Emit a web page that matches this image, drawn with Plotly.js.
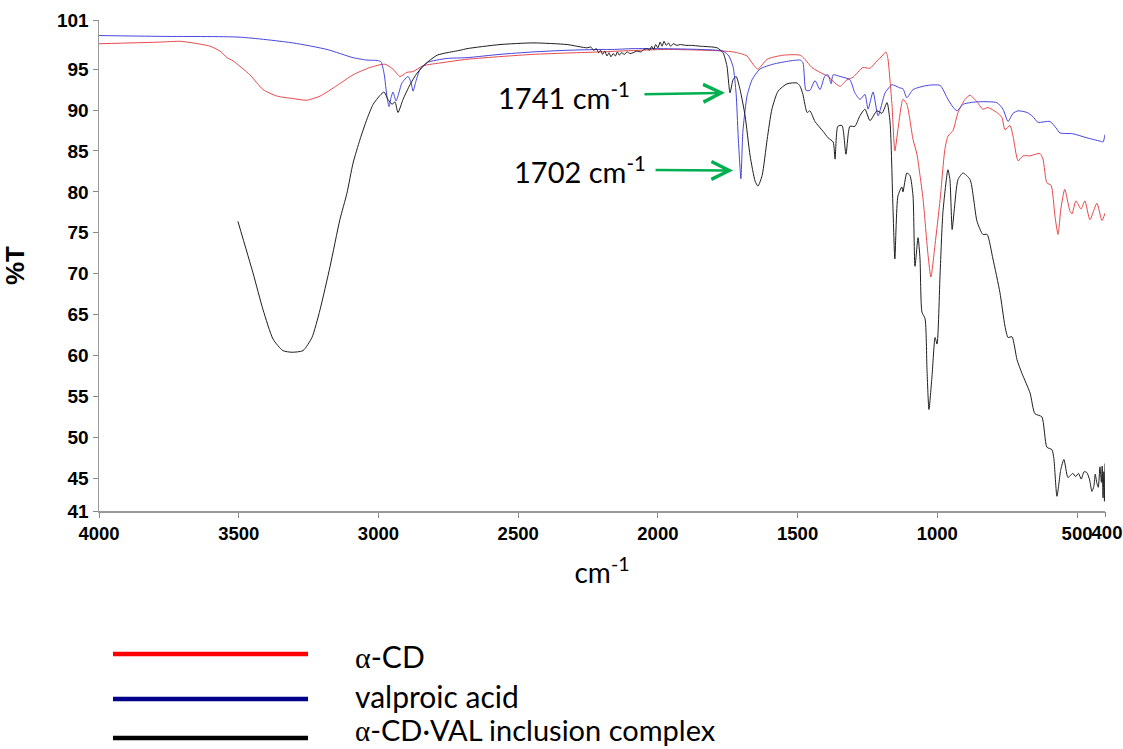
<!DOCTYPE html>
<html>
<head>
<meta charset="utf-8">
<script src="https://cdn.plot.ly/plotly-3.0.1.min.js"></script>
<style>html,body{margin:0;padding:0;background:#fff;}#chart{width:1123px;height:749px;}</style>
</head>
<body>
<div id="chart"></div>
<script>
// ---- series names ----
const seriesNames = ["α-CD", "valproic acid", "α-CD·VAL inclusion complex"];

// ---- α-CD (red) ----
const redWn = [4000, 3782, 3710, 3664, 3603, 3567, 3542, 3520, 3460, 3413, 3363, 3306, 3256, 3209, 3148, 3091, 3030, 2977, 2948, 2923, 2898, 2876, 2841, 2769, 2683, 2447, 2207, 1967, 1731, 1681, 1660, 1642, 1609, 1552, 1491, 1474, 1449, 1420, 1391, 1373, 1348, 1323, 1302, 1266, 1241, 1216, 1198, 1184, 1177, 1169, 1162, 1152, 1141, 1123, 1109, 1087, 1073, 1062, 1051, 1033, 1023, 1008, 990, 973, 962, 944, 926, 901, 883, 858, 837, 819, 787, 769, 758, 740, 729, 711, 693, 668, 633, 622, 608, 593, 579, 568, 558, 544, 526, 518, 504, 486, 472, 454, 429, 411, 400];
const redT  = [98.1, 98.3, 98.4, 98.2, 97.8, 97.2, 96.4, 96.0, 94.3, 92.5, 91.7, 91.4, 91.2, 91.7, 93.0, 94.3, 95.2, 95.6, 95.0, 94.1, 94.6, 94.7, 95.4, 95.8, 96.2, 96.8, 97.1, 97.4, 97.1, 96.6, 95.6, 95.0, 96.2, 96.7, 96.7, 96.2, 95.2, 94.6, 94.1, 93.5, 92.9, 93.7, 94.0, 95.2, 95.1, 96.0, 96.6, 97.1, 96.3, 93.5, 90.5, 85.0, 87.6, 91.3, 90.7, 86.4, 84.6, 82.0, 79.1, 72.2, 69.6, 73.6, 79.1, 85.2, 86.8, 87.5, 89.7, 91.3, 91.8, 91.0, 90.1, 90.3, 89.7, 89.1, 87.6, 88.1, 86.8, 83.8, 84.4, 84.4, 84.7, 84.0, 81.1, 80.8, 77.0, 74.8, 77.9, 80.3, 77.7, 77.3, 78.9, 77.9, 78.9, 76.6, 78.6, 76.5, 77.4];

// ---- valproic acid (blue) ----
const blueWn = [4000, 3782, 3495, 3306, 3184, 3091, 3041, 3002, 2991, 2980, 2969, 2962, 2955, 2948, 2937, 2926, 2916, 2894, 2883, 2876, 2866, 2851, 2826, 2755, 2683, 2565, 2447, 2325, 2207, 2161, 2089, 1992, 1849, 1767, 1746, 1731, 1720, 1713, 1708, 1703, 1696, 1688, 1681, 1663, 1635, 1588, 1527, 1491, 1481, 1470, 1456, 1438, 1420, 1402, 1391, 1380, 1373, 1348, 1313, 1295, 1277, 1259, 1248, 1230, 1212, 1187, 1169, 1162, 1134, 1123, 1109, 1087, 1037, 990, 965, 947, 930, 908, 883, 858, 787, 765, 747, 729, 711, 679, 658, 640, 597, 575, 561, 515, 465, 418, 407, 400];
const blueT  = [99.1, 99.0, 98.9, 98.2, 97.4, 96.4, 96.1, 96.05, 95.9, 94.5, 91.5, 90.4, 91.5, 92.2, 91.1, 92.2, 93.3, 94.1, 93.3, 92.3, 93.5, 95.0, 95.8, 96.3, 96.4, 96.8, 97.1, 97.3, 97.4, 97.4, 97.5, 97.5, 97.4, 97.2, 96.6, 95.3, 92.0, 87.0, 84.0, 81.6, 87.3, 90.0, 91.7, 93.7, 95.0, 95.6, 96.0, 96.1, 95.8, 92.4, 92.4, 93.6, 92.5, 94.2, 94.3, 93.2, 94.3, 94.1, 93.7, 92.1, 91.3, 91.9, 90.1, 92.2, 89.3, 92.1, 92.9, 93.1, 92.7, 92.6, 91.5, 92.5, 93.0, 93.0, 91.5, 90.5, 89.9, 90.7, 90.9, 91.0, 90.9, 90.1, 88.6, 89.6, 89.9, 89.7, 89.2, 88.5, 88.6, 87.8, 87.2, 87.1, 86.6, 86.2, 86.1, 87.0];

// ---- α-CD·VAL inclusion complex (black) ----
const blackWn = [3503, 3449, 3413, 3377, 3342, 3309, 3270, 3238, 3209, 3173, 3138, 3113, 3091, 3066, 3041, 3019, 2994, 2980, 2966, 2951, 2941, 2930, 2912, 2887, 2862, 2826, 2790, 2755, 2708, 2683, 2565, 2447, 2325, 2254, 2240, 2230, 2220, 2212, 2205, 2198, 2190, 2182, 2175, 2168, 2160, 2152, 2145, 2138, 2130, 2120, 2110, 2100, 2089, 2075, 2060, 2050, 2039, 2030, 2022, 2015, 2008, 2000, 1992, 1985, 1978, 1970, 1962, 1955, 1945, 1932, 1920, 1900, 1880, 1849, 1788, 1767, 1753, 1742, 1731, 1720, 1706, 1688, 1670, 1652, 1642, 1627, 1609, 1592, 1570, 1538, 1502, 1491, 1481, 1466, 1456, 1438, 1409, 1391, 1373, 1366, 1356, 1341, 1327, 1313, 1295, 1277, 1259, 1241, 1216, 1198, 1180, 1169, 1159, 1152, 1141, 1127, 1123, 1109, 1098, 1087, 1080, 1069, 1062, 1055, 1044, 1037, 1030, 1019, 1008, 1001, 990, 980, 962, 955, 947, 940, 926, 908, 883, 858, 837, 822, 801, 776, 758, 747, 733, 715, 697, 668, 651, 626, 608, 590, 583, 572, 558, 547, 533, 525, 515, 505, 495, 485, 475, 465, 455, 447, 440, 435, 429, 424, 418, 413, 410, 407, 404, 402, 400];
const blackT  = [76.4, 70.1, 65.6, 62.0, 60.6, 60.4, 60.6, 62.2, 65.6, 70.9, 76.6, 79.8, 83.5, 86.4, 88.9, 90.7, 91.8, 92.2, 91.3, 90.7, 91.0, 89.7, 91.3, 93.1, 94.5, 95.8, 96.7, 97.0, 97.3, 97.5, 98.0, 98.2, 98.0, 97.6, 97.7, 97.3, 97.5, 97.0, 97.3, 96.8, 97.2, 96.6, 97.0, 96.5, 96.9, 96.6, 97.1, 96.7, 97.0, 96.8, 97.1, 96.9, 97.0, 97.2, 97.1, 97.4, 97.5, 97.3, 97.8, 97.4, 98.0, 97.6, 98.3, 97.8, 98.4, 97.9, 98.2, 97.8, 98.1, 97.9, 98.0, 97.9, 97.9, 97.8, 97.6, 97.0, 95.4, 92.1, 93.7, 94.1, 92.5, 89.3, 84.4, 81.3, 80.7, 82.0, 86.4, 90.1, 92.3, 93.2, 93.3, 92.9, 91.9, 89.7, 89.9, 88.6, 87.4, 86.6, 86.1, 84.0, 88.0, 88.1, 84.6, 88.0, 88.0, 89.3, 90.1, 88.7, 89.9, 89.6, 90.9, 88.4, 78.3, 71.8, 79.5, 80.6, 80.0, 82.3, 82.0, 79.5, 70.9, 74.4, 71.8, 65.3, 64.5, 58.3, 53.4, 57.5, 62.2, 61.4, 70.1, 77.5, 82.7, 81.5, 75.4, 77.6, 81.5, 82.3, 81.5, 76.4, 74.8, 74.8, 71.8, 67.7, 63.6, 62.2, 62.3, 59.5, 57.8, 55.4, 52.9, 52.5, 48.8, 48.5, 47.4, 42.8, 46.1, 47.3, 45.1, 45.3, 45.6, 45.2, 45.6, 44.9, 45.8, 45.7, 44.8, 43.4, 44.0, 45.5, 44.4, 43.9, 46.4, 44.5, 46.5, 42.6, 45.8, 42.2, 46.8];

// ---- axis ticks ----
const xTickVals = [4000, 3500, 3000, 2500, 2000, 1500, 1000, 500];
const xTickText = ["4000", "3500", "3000", "2500", "2000", "1500", "1000", "500"];
const xEndTickVals = [400];
const xEndTickText = ["400"];
const yTickVals = [41, 45, 50, 55, 60, 65, 70, 75, 80, 85, 90, 95, 101];

// ---- peak labels (arrow tip position) ----
const peakLabels = ["1741 cm<sup>-1</sup>", "1702 cm<sup>-1</sup>"];
const peakPos = [1760, 1731];
const peakPosT = [92.1, 82.6];

const lineColors = ["#e8484a", "#4646e0", "#1e1e1e"];
const legendColors = ["#ff0000", "#00008b", "#000000"];

const traces = [
  {x: redWn, y: redT, name: seriesNames[0], xaxis: "x"},
  {x: blueWn, y: blueT, name: seriesNames[1], xaxis: "x"},
  {x: blackWn, y: blackT, name: seriesNames[2], xaxis: "x2"}
].map((t, i) => Object.assign(t, {
  type: "scatter", mode: "lines", showlegend: false,
  line: {color: lineColors[i], width: 1, shape: "spline", smoothing: 0.6}
}));

const boldFam = "Liberation Sans, Arial, sans-serif";
const txtFont = "Lato, Open Sans, sans-serif";

const annotations = [];
const shapes = [];
const peakAx = [-161, -153], peakAy = [3, -1], peakStart = [13, 8];
peakLabels.forEach((lab, i) => {
  annotations.push({x: peakPos[i], y: peakPosT[i], xref: "x", yref: "y", text: lab,
    showarrow: true, ax: peakAx[i], ay: peakAy[i], axref: "pixel", ayref: "pixel",
    arrowhead: 5, arrowsize: 1.4, arrowwidth: 2.5, arrowcolor: "#00b050",
    standoff: 0, startstandoff: peakStart[i],
    font: {family: txtFont, size: 29, color: "#000"}});
});

const legLineY = [-0.2912, -0.3829, -0.4623];
const legTextY = [-0.2953, -0.3768, -0.4460];
const alphaSerif = s => s.replace(/α/g, '<span style="font-family:\'Liberation Serif\'">α</span>');
seriesNames.forEach((n, i) => {
  shapes.push({type: "line", xref: "paper", yref: "paper", x0: 0.0139, x1: 0.2078,
    y0: legLineY[i], y1: legLineY[i], line: {color: legendColors[i], width: 4.5}});
  annotations.push({xref: "paper", yref: "paper", x: 0.2525, y: legTextY[i], text: alphaSerif(n),
    showarrow: false, xanchor: "left", yanchor: "middle",
    font: {family: txtFont, size: i === 2 ? 29 : 30, color: "#000"}});
});

const xTickFont = {family: boldFam, size: 18.5, color: "#000", weight: "bold"};

const layout = {
  width: 1123, height: 749,
  margin: {l: 99, r: 18, t: 20, b: 238},
  paper_bgcolor: "#fff", plot_bgcolor: "#fff",
  showlegend: false,
  xaxis: {
    range: [4000, 400], autorange: false,
    tickmode: "array", tickvals: xTickVals, ticktext: xTickText, tickangle: 0,
    ticklabelshift: 3.5,
    ticks: "outside", ticklen: 5, tickwidth: 1, tickcolor: "#888",
    showline: true, linecolor: "#999", linewidth: 1.5,
    showgrid: false, zeroline: false, tickfont: xTickFont,
    title: {text: "cm<sup>-1</sup>", font: {family: txtFont, size: 28, color: "#000"}, standoff: 20}
  },
  xaxis2: {
    overlaying: "x", anchor: "y", side: "bottom",
    range: [4000, 400], autorange: false,
    tickmode: "array", tickvals: xEndTickVals, ticktext: xEndTickText, tickangle: 0,
    ticklabelshift: -2,
    ticks: "outside", ticklen: 5, tickwidth: 1, tickcolor: "#888",
    showline: false, showgrid: false, zeroline: false, tickfont: xTickFont
  },
  yaxis: {
    range: [41, 101], autorange: false,
    tickmode: "array", tickvals: yTickVals,
    ticks: "outside", ticklen: 5, tickwidth: 1, tickcolor: "#888",
    showline: true, linecolor: "#999", linewidth: 1.5,
    showgrid: false, zeroline: false,
    tickfont: {family: boldFam, size: 19, color: "#000", weight: "bold"},
    title: {text: "%T", font: {family: boldFam, size: 26, color: "#000", weight: "bold"}, standoff: 26}
  },
  annotations: annotations,
  shapes: shapes
};

Plotly.newPlot("chart", traces, layout, {staticPlot: true, displayModeBar: false});
</script>
</body>
</html>
